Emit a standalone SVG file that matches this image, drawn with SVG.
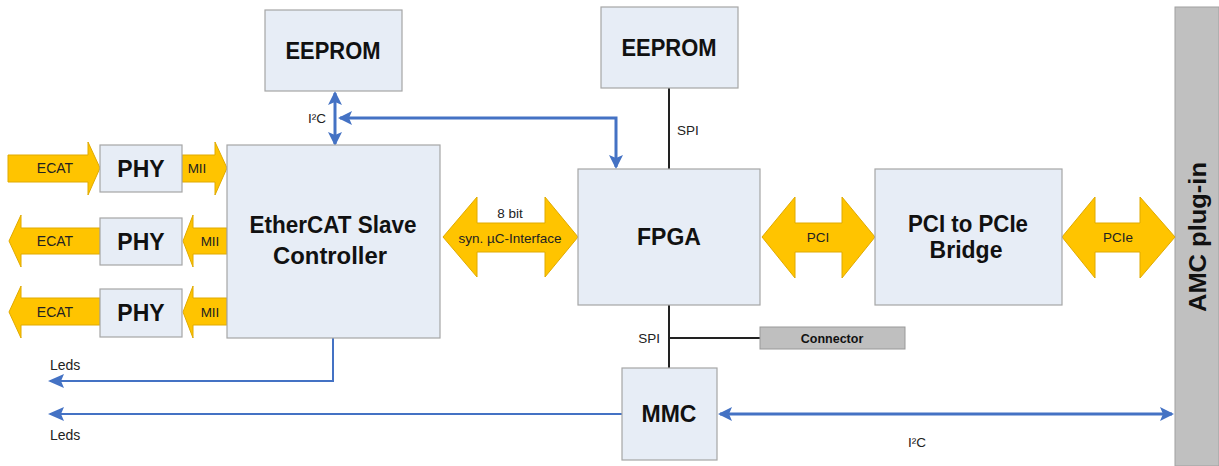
<svg xmlns="http://www.w3.org/2000/svg" width="1219" height="466" viewBox="0 0 1219 466">
<style>
.box{fill:#e7edf6;stroke:#a6a6a6;stroke-width:1.2}
.yel{fill:#ffc400;stroke:#e0aa00;stroke-width:1}
.big{font-family:"Liberation Sans",Arial,sans-serif;font-weight:bold;font-size:23px;fill:#111;text-anchor:middle}
.sm{font-family:"Liberation Sans",Arial,sans-serif;font-size:13.5px;fill:#222;text-anchor:middle}
.blue{stroke:#4472c4;fill:none}
.blk{stroke:#222;stroke-width:2;fill:none}
</style>
<defs>
<marker id="ah" viewBox="0 0 14 14" refX="12" refY="7" markerWidth="14" markerHeight="14" markerUnits="userSpaceOnUse" orient="auto-start-reverse">
<path d="M0,0 L14,7 L0,14 L3,7 z" fill="#4472c4"/>
</marker>
<marker id="ah2" viewBox="0 0 16 14" refX="14" refY="7" markerWidth="16" markerHeight="14" markerUnits="userSpaceOnUse" orient="auto-start-reverse">
<path d="M0,0 L16,7 L0,14 L3,7 z" fill="#4472c4"/>
</marker>
</defs>
<rect x="1175" y="7" width="44" height="459" fill="#c0c0c0" stroke="#a0a0a0"/>
<text class="big" transform="translate(1206,237) rotate(-90)" style="font-size:24px" textLength="150" lengthAdjust="spacingAndGlyphs">AMC plug-in</text>
<g id="connectors">
<polygon class="yel" points="8,155 88,155 88,142 100,168 88,195 88,182 8,182"/>
<polygon class="yel" points="182,155 215,155 215,142 227,168 215,195 215,182 182,182"/>
<polygon class="yel" points="100,228 21,228 21,215 9,241 21,267 21,254 100,254"/>
<polygon class="yel" points="227,228 193,228 193,215 183,241 193,267 193,254 227,254"/>
<polygon class="yel" points="100,298 21,298 21,286 9,312 21,338 21,325 100,325"/>
<polygon class="yel" points="227,298 193,298 193,286 183,312 193,338 193,325 227,325"/>
<text class="sm" x="55" y="173" style="font-size:14px">ECAT</text>
<text class="sm" x="197" y="173">MII</text>
<text class="sm" x="55" y="246" style="font-size:14px">ECAT</text>
<text class="sm" x="210" y="246">MII</text>
<text class="sm" x="55" y="317" style="font-size:14px">ECAT</text>
<text class="sm" x="210" y="317">MII</text>
<polygon class="yel" points="443,237 477,197 477,223 545,223 545,197 578,237 545,277 545,252 477,252 477,277"/>
<text class="sm" x="510" y="218">8 bit</text>
<text class="sm" x="510" y="243">syn. µC-Interface</text>
<polygon class="yel" points="762,237 795,197 795,223 842,223 842,197 875,237 842,278 842,252 795,252 795,278"/>
<text class="sm" x="818" y="242">PCI</text>
<polygon class="yel" points="1062,237 1095,197 1095,223 1140,223 1140,197 1175,237 1140,278 1140,252 1095,252 1095,278"/>
<text class="sm" x="1118" y="242">PCIe</text>
<line class="blue" x1="335" y1="93" x2="335" y2="144" stroke-width="3" marker-start="url(#ah)" marker-end="url(#ah)"/>
<polyline class="blue" points="340,118 616,118 616,167" stroke-width="3" marker-start="url(#ah)" marker-end="url(#ah)"/>
<text class="sm" x="317" y="123">I²C</text>
<line class="blk" x1="669" y1="88" x2="669" y2="170"/>
<text class="sm" x="677" y="135" style="text-anchor:start">SPI</text>
<line class="blk" x1="669" y1="305" x2="669" y2="368"/>
<line class="blk" x1="669" y1="338" x2="760" y2="338"/>
<text class="sm" x="660" y="343" style="text-anchor:end">SPI</text>
<polyline class="blue" points="333,338 333,381 50,381" stroke-width="2" marker-end="url(#ah2)"/>
<text class="sm" x="50" y="370" style="text-anchor:start;font-size:14px">Leds</text>
<line class="blue" x1="622" y1="414" x2="50" y2="414" stroke-width="2" marker-end="url(#ah2)"/>
<text class="sm" x="50" y="440" style="text-anchor:start;font-size:14px">Leds</text>
<line class="blue" x1="720" y1="414" x2="1172" y2="414" stroke-width="3" marker-start="url(#ah)" marker-end="url(#ah)"/>
<text class="sm" x="917" y="447">I²C</text>
</g>
<g id="eeprom1"><rect class="box" x="265" y="10" width="137" height="81"/><text class="big" x="333" y="59" textLength="95" lengthAdjust="spacingAndGlyphs">EEPROM</text></g>
<g id="eeprom2"><rect class="box" x="601" y="7" width="137" height="81"/><text class="big" x="669" y="56" textLength="95" lengthAdjust="spacingAndGlyphs">EEPROM</text></g>
<g id="phy1"><rect class="box" x="100" y="145" width="82" height="47"/><text class="big" x="141" y="177">PHY</text></g>
<g id="phy2"><rect class="box" x="100" y="218" width="82" height="47"/><text class="big" x="141" y="250">PHY</text></g>
<g id="phy3"><rect class="box" x="100" y="289" width="82" height="48"/><text class="big" x="141" y="321">PHY</text></g>
<g id="esc"><rect class="box" x="227" y="145" width="213" height="193"/><text class="big" x="333" y="233" textLength="167" lengthAdjust="spacingAndGlyphs">EtherCAT Slave</text><text class="big" x="330" y="264" textLength="114" lengthAdjust="spacingAndGlyphs">Controller</text></g>
<g id="fpga"><rect class="box" x="578" y="169" width="182" height="136"/><text class="big" x="669" y="245">FPGA</text></g>
<g id="bridge"><rect class="box" x="875" y="169" width="187" height="136"/><text class="big" x="968" y="232" textLength="120" lengthAdjust="spacingAndGlyphs">PCI to PCIe</text><text class="big" x="966" y="258">Bridge</text></g>
<g id="connector"><rect x="760" y="327" width="145" height="22" fill="#bfbfbf" stroke="#999"/><text class="big" x="832" y="343" style="font-size:12.5px">Connector</text></g>
<g id="mmc"><rect class="box" x="622" y="368" width="95" height="92"/><text class="big" x="669" y="422">MMC</text></g>
</svg>
